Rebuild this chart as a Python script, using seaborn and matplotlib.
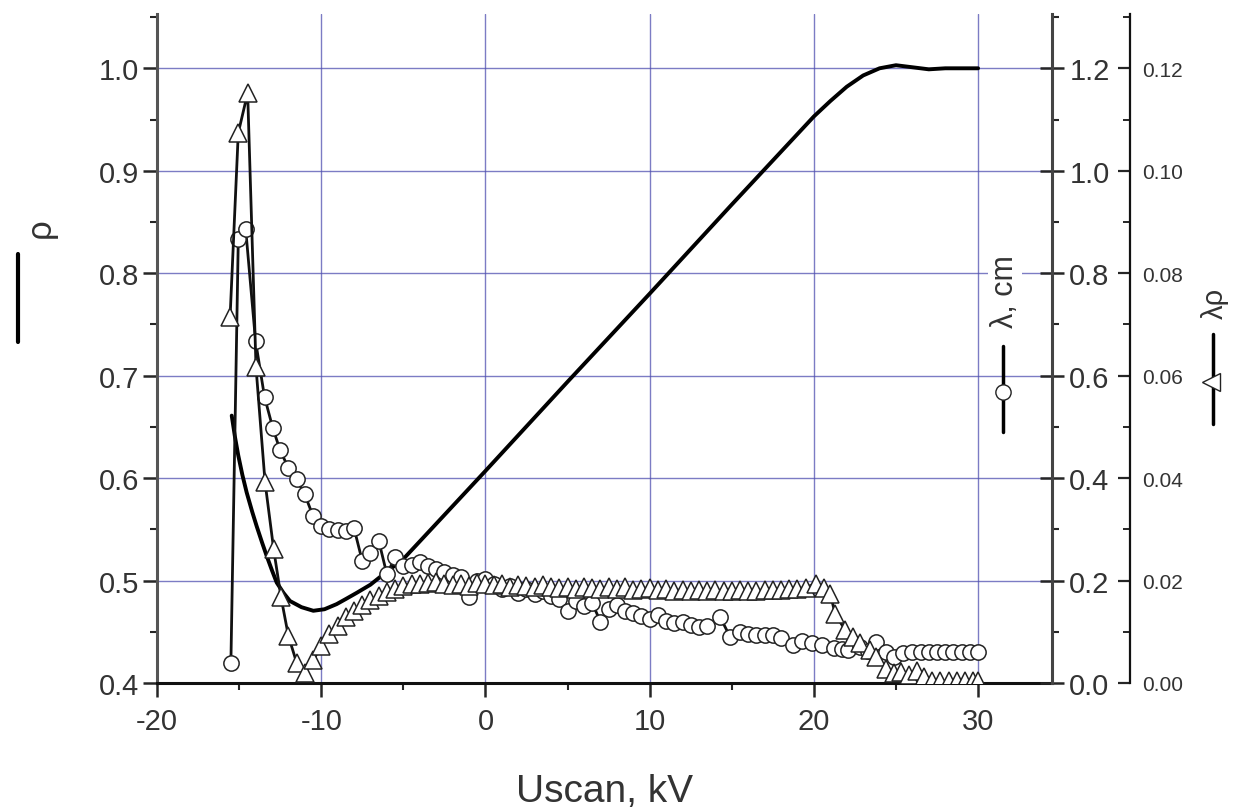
import seaborn as sns
import matplotlib.pyplot as plt
from matplotlib.lines import Line2D
from matplotlib.ticker import MultipleLocator, FormatStrFormatter

# rho (left axis), solid line
rho_x = [-15.45, -15.25, -15.05, -14.8, -14.54, -14.2, -13.93, -13.6, -13.32, -13.0,
         -12.71, -12.3, -11.9, -11.2, -10.48, -9.8, -9.06, -8.5, -7.84, -7.0,
         -6.22, -5.0, 0.0, 5.0, 10.0, 15.0, 20.0, 21.0, 22.0, 23.0,
         24.0, 25.0, 26.0, 27.0, 28.0, 30.0]
rho_val = [0.661, 0.640, 0.622, 0.603, 0.586, 0.567, 0.553, 0.537, 0.524, 0.510,
           0.498, 0.488, 0.480, 0.474, 0.4705, 0.472, 0.477, 0.482, 0.488, 0.496,
           0.506, 0.521, 0.607, 0.694, 0.780, 0.867, 0.953, 0.968, 0.982, 0.993,
           1.000, 1.003, 1.001, 0.999, 1.000, 1.000]

# lambda, cm (first right axis), open circles
lam_x = [-15.5, -15.05, -14.6, -14.0, -13.45, -12.95, -12.5, -12.0, -11.5, -11.0,
         -10.5, -10.0, -9.5, -9.0, -8.5, -8.0, -7.5, -7.0, -6.5, -6.0,
         -5.5, -5.0, -4.5, -4.0, -3.5, -3.0, -2.5, -2.0, -1.5, -1.0,
         -0.5, 0.0, 0.5, 1.0, 1.5, 2.0, 2.5, 3.0, 3.5, 4.0,
         4.5, 5.0, 5.5, 6.0, 6.5, 7.0, 7.5, 8.0, 8.5, 9.0,
         9.5, 10.0, 10.5, 11.0, 11.5, 12.0, 12.5, 13.0, 13.5, 14.3,
         14.9, 15.5, 16.0, 16.5, 17.0, 17.5, 18.0, 18.7, 19.3, 19.9,
         20.5, 21.2, 21.7, 22.1, 22.8, 23.3, 23.8, 24.4, 24.9, 25.4,
         26.0, 26.5, 27.0, 27.5, 28.0, 28.5, 29.0, 29.5, 30.0]
lam_cm = [0.040, 0.866, 0.886, 0.668, 0.558, 0.498, 0.454, 0.420, 0.398, 0.368,
          0.326, 0.306, 0.300, 0.298, 0.296, 0.302, 0.238, 0.254, 0.278, 0.212,
          0.246, 0.228, 0.230, 0.236, 0.228, 0.222, 0.216, 0.210, 0.206, 0.168,
          0.200, 0.204, 0.194, 0.184, 0.190, 0.176, 0.184, 0.174, 0.180, 0.170,
          0.164, 0.140, 0.160, 0.150, 0.156, 0.120, 0.144, 0.152, 0.140, 0.136,
          0.130, 0.124, 0.132, 0.122, 0.118, 0.120, 0.114, 0.110, 0.112, 0.128,
          0.090, 0.100, 0.096, 0.094, 0.094, 0.094, 0.088, 0.074, 0.082, 0.078,
          0.074, 0.068, 0.066, 0.064, 0.070, 0.062, 0.080, 0.060, 0.050, 0.058,
          0.060, 0.060, 0.060, 0.060, 0.060, 0.060, 0.060, 0.060, 0.060]

# lambda*rho (second right axis), open triangles
lr_x = [-15.55, -15.05, -14.48, -13.97, -13.42, -12.9, -12.45, -12.0, -11.5, -11.0,
        -10.5, -10.0, -9.5, -9.0, -8.5, -8.0, -7.5, -7.0, -6.5, -6.0,
        -5.5, -5.0, -4.5, -4.0, -3.5, -3.0, -2.5, -2.0, -1.5, -1.0,
        -0.5, 0.0, 0.5, 1.0, 1.5, 2.0, 2.5, 3.0, 3.5, 4.0,
        4.5, 5.0, 5.5, 6.0, 6.5, 7.0, 7.5, 8.0, 8.5, 9.0,
        9.5, 10.0, 10.5, 11.0, 11.5, 12.0, 12.5, 13.0, 13.5, 14.0,
        14.5, 15.0, 15.5, 16.0, 16.5, 17.0, 17.5, 18.0, 18.5, 19.0,
        19.5, 20.1, 20.6, 21.0, 21.3, 21.9, 22.4, 22.8, 23.4, 23.8,
        24.4, 24.9, 25.3, 25.8, 26.3, 26.7, 27.2, 27.7, 28.2, 28.7,
        29.2, 29.7, 30.0]
lr_val = [0.0714, 0.1074, 0.1152, 0.0616, 0.0392, 0.0262, 0.0168, 0.0092, 0.0040, 0.0020,
          0.0044, 0.0072, 0.0096, 0.0112, 0.0128, 0.0140, 0.0152, 0.0162, 0.0170, 0.0178,
          0.0184, 0.0190, 0.0194, 0.0194, 0.0196, 0.0198, 0.0194, 0.0192, 0.0194, 0.0190,
          0.0196, 0.0194, 0.0192, 0.0194, 0.0188, 0.0192, 0.0190, 0.0188, 0.0192, 0.0188,
          0.0186, 0.0188, 0.0184, 0.0188, 0.0186, 0.0184, 0.0188, 0.0184, 0.0188, 0.0182,
          0.0184, 0.0186, 0.0182, 0.0184, 0.0180, 0.0182, 0.0180, 0.0182, 0.0180, 0.0182,
          0.0180, 0.0180, 0.0182, 0.0180, 0.0180, 0.0182, 0.0182, 0.0182, 0.0184, 0.0184,
          0.0186, 0.0194, 0.0186, 0.0174, 0.0134, 0.0104, 0.0090, 0.0078, 0.0064, 0.0050,
          0.0028, 0.0020, 0.0022, 0.0016, 0.0024, 0.0012, 0.0004, 0.0004, 0.0004, 0.0004,
          0.0004, 0.0004, 0.0004]

sns.set_style("ticks")
plt.rcParams['font.family'] = ['Liberation Sans', 'DejaVu Sans']
plt.rcParams['axes.unicode_minus'] = False

W, H = 1244, 812
fig = plt.figure(figsize=(W / 100, H / 100), dpi=100)
ax = fig.add_axes([157 / W, 1 - 684 / H, (1052 - 157) / W, (684 - 15) / H])
ax2 = ax.twinx()
ax3 = ax.twinx()

txt = '#333333'
grid_c = '#5050b0'

sns.lineplot(x=rho_x, y=rho_val, ax=ax, color='black', lw=2.8,
             sort=False, estimator=None)
sns.lineplot(x=lam_x, y=lam_cm, ax=ax2, color='#111111', lw=2.0, sort=False,
             estimator=None, marker='o', markersize=11, markerfacecolor='white',
             markeredgecolor='#222222', markeredgewidth=1.1)
sns.lineplot(x=lr_x, y=lr_val, ax=ax3, color='#111111', lw=2.0, sort=False,
             estimator=None, marker='^', markersize=13, markerfacecolor='white',
             markeredgecolor='#222222', markeredgewidth=1.1)

ax.set_xlim(-20, 34.5)
ax.set_ylim(0.4, 1.053)
ax2.set_ylim(0, 1.306)
ax3.set_ylim(0, 0.1306)

ax.xaxis.set_major_locator(MultipleLocator(10))
ax.xaxis.set_minor_locator(MultipleLocator(5))
ax.yaxis.set_major_locator(MultipleLocator(0.1))
ax.yaxis.set_minor_locator(MultipleLocator(0.05))
ax.yaxis.set_major_formatter(FormatStrFormatter('%.1f'))
ax2.yaxis.set_major_locator(MultipleLocator(0.2))
ax2.yaxis.set_minor_locator(MultipleLocator(0.1))
ax2.yaxis.set_major_formatter(FormatStrFormatter('%.1f'))
ax3.yaxis.set_major_locator(MultipleLocator(0.02))
ax3.yaxis.set_minor_locator(MultipleLocator(0.01))
ax3.yaxis.set_major_formatter(FormatStrFormatter('%.2f'))

ax.grid(True, which='major', color=grid_c, lw=1.0, alpha=0.75)
ax.set_axisbelow(True)

for a in (ax, ax2, ax3):
    a.spines['top'].set_visible(False)
ax.spines['right'].set_visible(False)
for a in (ax2, ax3):
    a.spines['left'].set_visible(False)
    a.spines['bottom'].set_visible(False)
ax3.spines['right'].set_position(('outward', 78 * 0.72))

ax.spines['left'].set_color('#555555')
ax.spines['left'].set_linewidth(2.2)
ax.spines['bottom'].set_color('#111111')
ax.spines['bottom'].set_linewidth(2.2)
ax2.spines['right'].set_color('#444444')
ax2.spines['right'].set_linewidth(2.2)
ax3.spines['right'].set_color('#111111')
ax3.spines['right'].set_linewidth(1.6)

ax.tick_params(axis='both', which='major', direction='out', length=10, width=1.8,
               labelsize=21, labelcolor=txt, pad=3)
ax.tick_params(axis='both', which='minor', direction='out', length=5, width=1.5)
ax.tick_params(axis='x', which='major', pad=7)
ax2.tick_params(axis='y', which='major', direction='inout', length=17, width=1.8,
                labelsize=21, labelcolor=txt, pad=4)
ax2.tick_params(axis='y', which='minor', direction='out', length=5, width=1.5)
ax3.tick_params(axis='y', which='major', direction='in', length=9, width=1.6,
                labelsize=15, labelcolor=txt, pad=9)
ax3.tick_params(axis='y', which='minor', direction='in', length=5, width=1.4)

ax.set_xlabel('Uscan, kV', fontsize=28, color=txt, labelpad=28)
ax.set_ylabel('')
ax2.set_ylabel('')
ax3.set_ylabel('')


def fx(px):
    return px / W


def fy(py):
    return 1 - py / H


# left axis title with line sample
fig.text(fx(40), fy(228), 'ρ', rotation=90, fontsize=25, color=txt,
         ha='center', va='center')
fig.add_artist(Line2D([fx(18), fx(18)], [fy(255), fy(343)], color='black', lw=3,
                      transform=fig.transFigure))

# lambda axis title with circle sample
fig.text(fx(1005), fy(292), 'λ, cm', rotation=90, fontsize=22, color=txt,
         ha='center', va='center',
         bbox=dict(fc='white', ec='none', pad=1))
fig.add_artist(Line2D([fx(1003), fx(1003)], [fy(347), fy(433)], color='black', lw=2.5,
                      transform=fig.transFigure))
fig.add_artist(Line2D([fx(1003)], [fy(393)], marker='o', markersize=11,
                      markerfacecolor='white', markeredgecolor='#222222',
                      transform=fig.transFigure))

# lambda*rho axis title with triangle sample
fig.text(fx(1215), fy(303), 'λρ', rotation=90, fontsize=21, color=txt,
         ha='center', va='center')
fig.add_artist(Line2D([fx(1213), fx(1213)], [fy(335), fy(425)], color='black', lw=2.5,
                      transform=fig.transFigure))
fig.add_artist(Line2D([fx(1211)], [fy(383)], marker='<', markersize=13,
                      markerfacecolor='white', markeredgecolor='#222222',
                      transform=fig.transFigure))

fig.savefig('out.png', dpi=100)
